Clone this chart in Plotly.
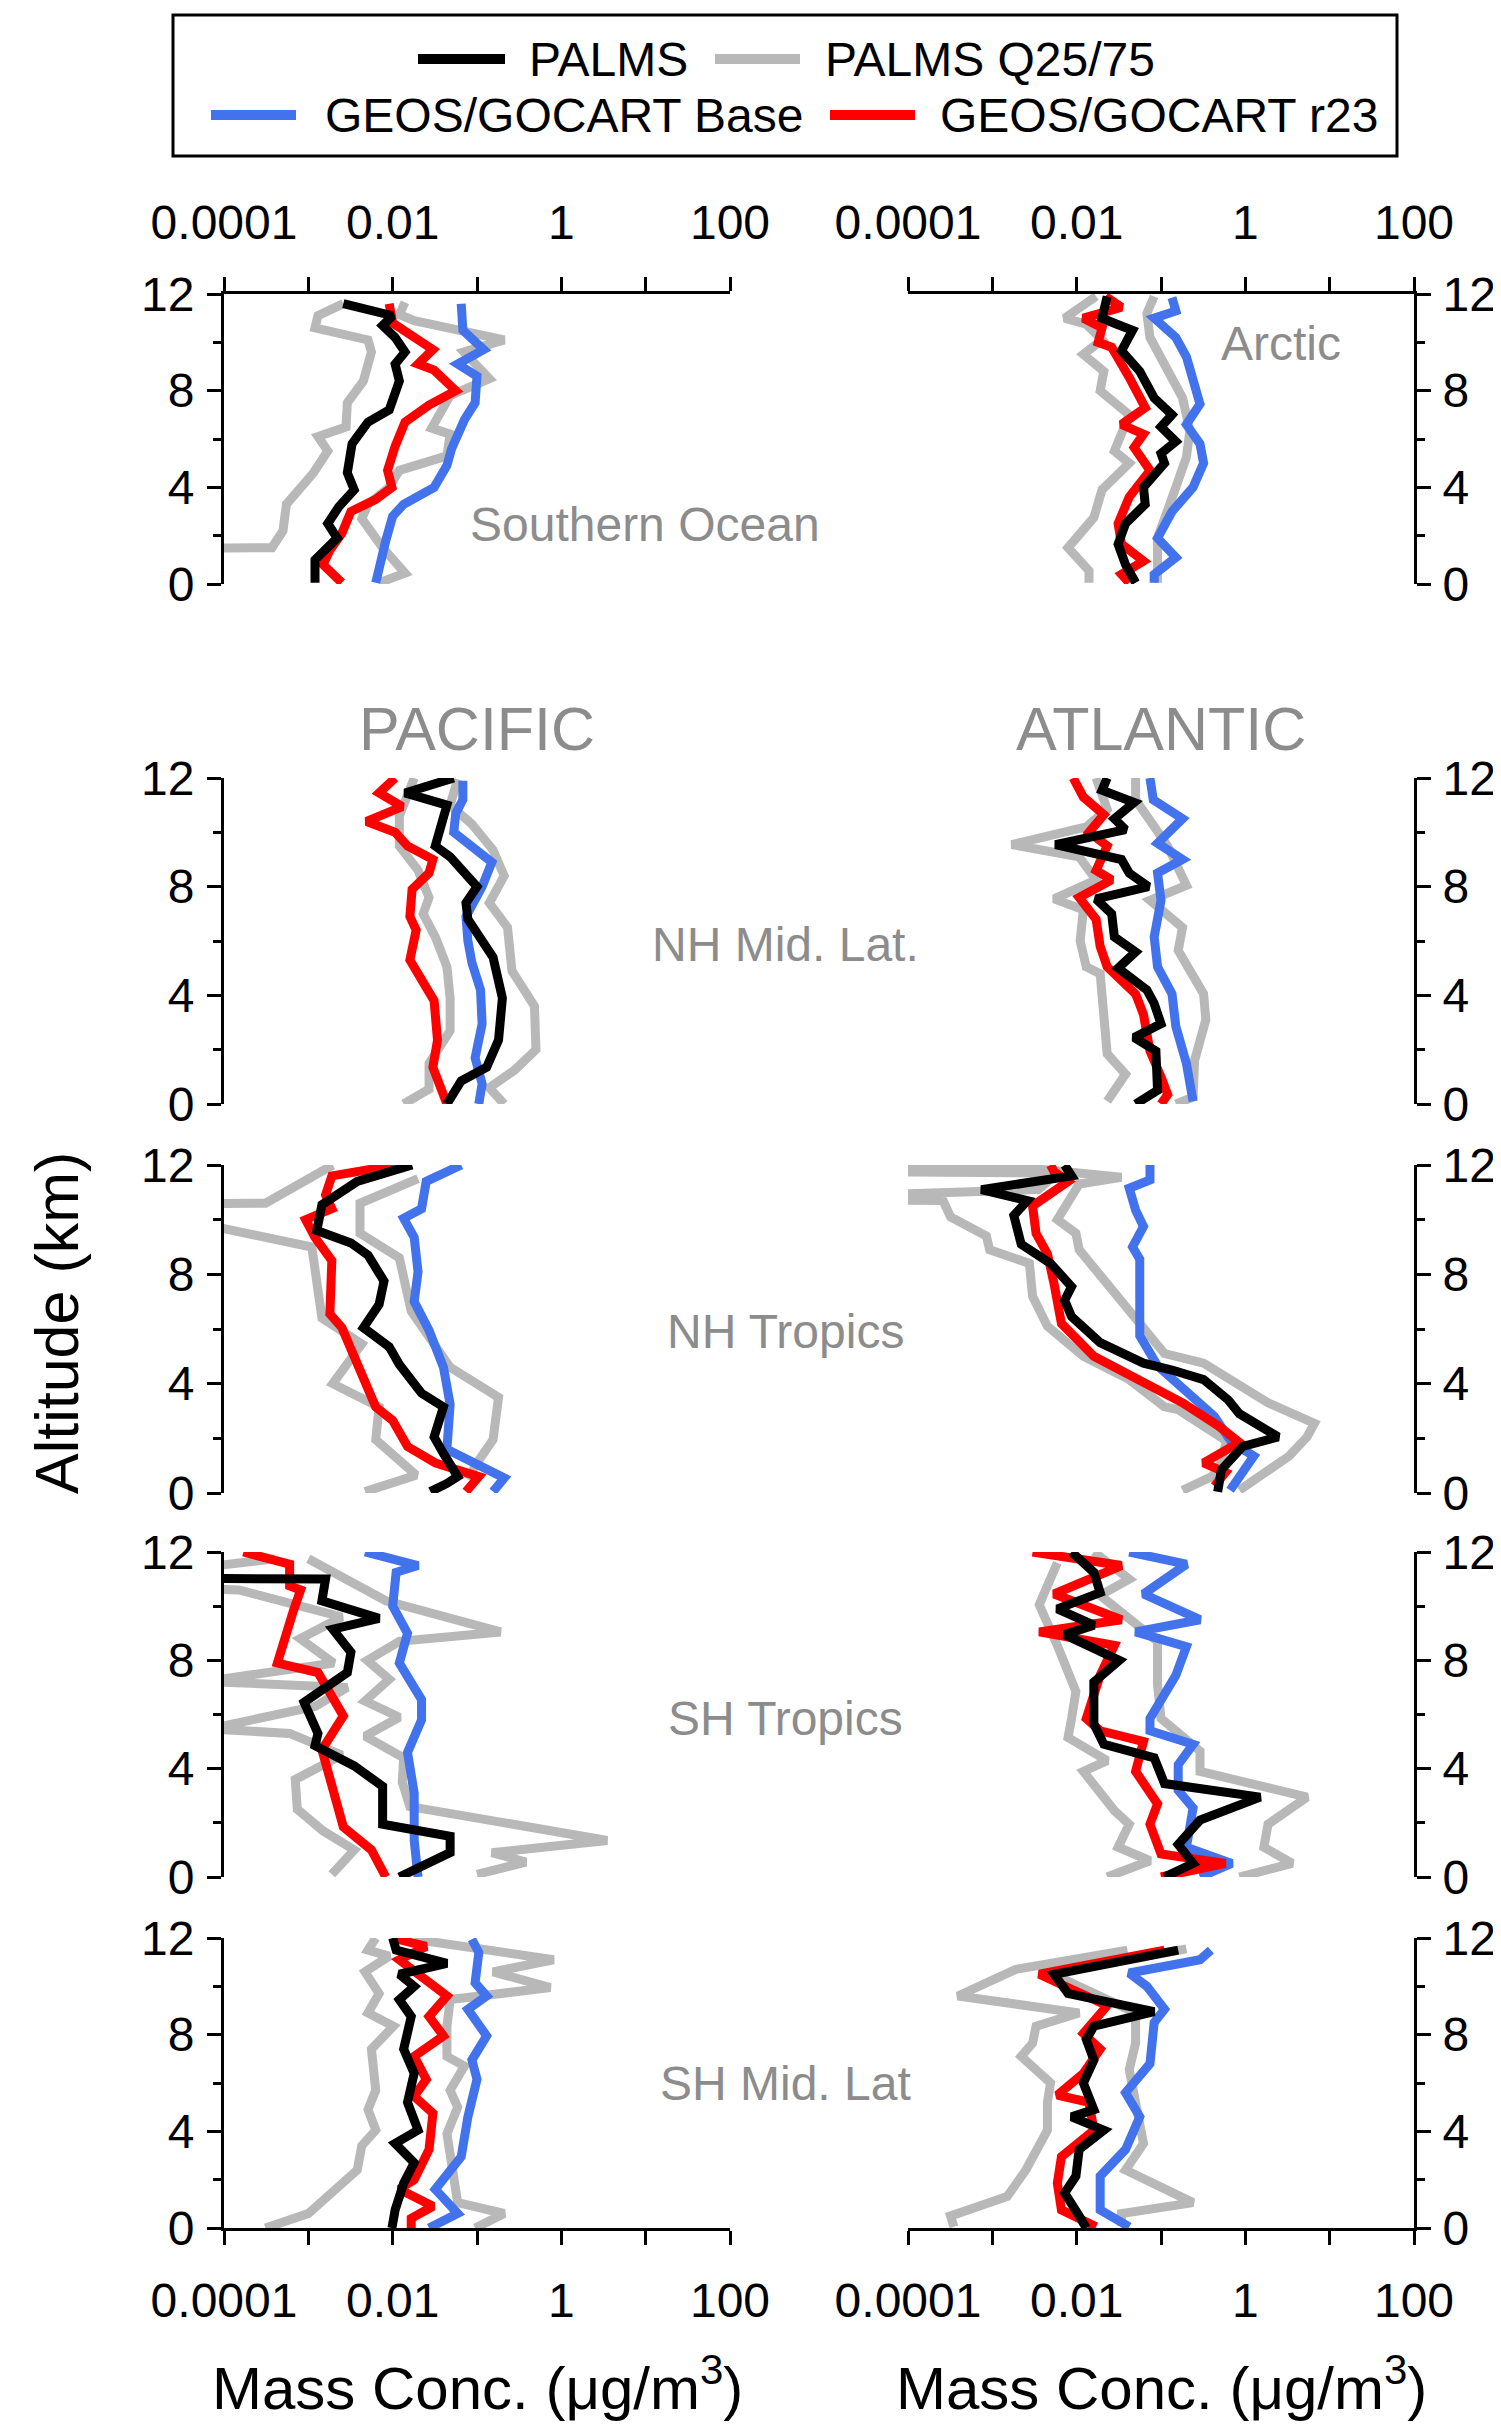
import plotly.graph_objects as go

# The page puts the figure 8 px in from the top-left corner, so the figure is
# sized to end exactly at the 1501x2426 window edge and positions are given in
# window pixels, then converted.
OFF = 8
FW, FH = 1501 - OFF, 2426 - OFF

# ---------------- data (altitude km, mass concentration ug/m3) ----------------
# Southern Ocean (Pacific column, top row)
so_palms_z = [11.6, 11.1, 10.7, 10.2, 9.6, 9.1, 8.4, 7.2, 6.7, 5.8, 4.6, 3.9, 3.2, 2.5, 1.9, 1.0, 0.05]
so_palms = [2.6e-3, 1.0e-2, 7.6e-3, 1.07e-2, 1.4e-2, 1.07e-2, 1.2e-2, 9.1e-3, 5.1e-3, 3.3e-3, 2.9e-3, 3.5e-3, 2.3e-3, 1.7e-3, 2.2e-3, 1.2e-3, 1.2e-3]
so_r23_z = [11.6, 10.8, 9.7, 9.1, 8.85, 8.0, 7.4, 6.7, 5.7, 4.7, 4.0, 3.5, 3.0, 2.1, 1.4, 0.8, 0.05]
so_r23 = [9.1e-3, 1.0e-2, 3.0e-2, 2.0e-2, 3.1e-2, 5.6e-2, 2.7e-2, 1.4e-2, 1.07e-2, 8.7e-3, 9.8e-3, 6.3e-3, 3.2e-3, 2.5e-3, 1.8e-3, 1.5e-3, 2.5e-3]
so_base_z = [11.6, 10.5, 9.7, 9.1, 8.6, 7.5, 6.8, 5.6, 4.9, 4.0, 3.3, 2.8, 1.8, 1.0, 0.05]
so_base = [6.5e-2, 6.8e-2, 0.12, 5.9e-2, 0.10, 9.5e-2, 7.1e-2, 5.0e-2, 4.4e-2, 3.1e-2, 1.35e-2, 1.0e-2, 8.3e-3, 7.2e-3, 6.3e-3]
so_q75_z = [11.65, 11.15, 10.9, 10.1, 9.6, 8.5, 7.8, 6.45, 6.2, 5.3, 4.7, 4.0, 3.3, 2.7, 1.5, 0.45, 0.05]
so_q75 = [1.4e-2, 1.2e-2, 1.8e-2, 0.21, 7.0e-2, 0.14, 4.8e-2, 2.9e-2, 4.8e-2, 4.4e-2, 1.2e-2, 9.1e-3, 5.1e-3, 4.3e-3, 7.6e-3, 1.4e-2, 6.9e-3]
so_q25_z = [11.6, 11.1, 10.6, 10.1, 9.6, 8.4, 7.5, 6.5, 6.1, 5.5, 4.6, 3.8, 3.3, 2.2, 1.5, 1.45, 0.05]
so_q25 = [2.6e-3, 1.3e-3, 1.2e-3, 5.1e-3, 5.6e-3, 4.5e-3, 2.9e-3, 2.8e-3, 1.3e-3, 1.7e-3, 1.15e-3, 7.4e-4, 5.5e-4, 5.0e-4, 3.7e-4, 1e-6, 1e-6]

# Arctic (Atlantic column, top row)
ar_palms_z = [11.9, 11.0, 10.75, 10.5, 9.65, 8.8, 7.7, 7.0, 6.5, 5.9, 5.4, 5.0, 4.0, 3.3, 2.5, 1.65, 0.8, 0.05]
ar_palms = [2.3e-2, 2.0e-2, 3.0e-2, 4.6e-2, 3.4e-2, 5.6e-2, 8.3e-2, 0.135, 0.10, 0.15, 0.10, 0.11, 6.2e-2, 6.5e-2, 3.8e-2, 3.1e-2, 3.8e-2, 5.0e-2]
ar_r23_z = [11.9, 11.45, 11.0, 10.6, 10.0, 9.8, 8.55, 7.3, 6.6, 6.2, 5.65, 4.7, 3.6, 2.5, 1.65, 0.95, 0.4, 0.05]
ar_r23 = [2.2e-2, 3.4e-2, 1.2e-2, 2.0e-2, 1.8e-2, 2.6e-2, 4.2e-2, 6.5e-2, 3.4e-2, 6.2e-2, 4.8e-2, 7.4e-2, 4.2e-2, 3.1e-2, 3.4e-2, 6.2e-2, 3.4e-2, 4.2e-2]
ar_base_z = [11.85, 11.3, 11.0, 10.6, 10.2, 9.4, 8.3, 7.45, 6.6, 5.8, 5.0, 4.0, 3.0, 1.9, 1.1, 0.4, 0.05]
ar_base = [0.135, 0.15, 8.3e-2, 0.11, 0.15, 0.20, 0.24, 0.29, 0.20, 0.29, 0.32, 0.24, 0.135, 9.1e-2, 0.15, 8.3e-2, 8.3e-2]
ar_q75_z = [11.9, 11.2, 10.2, 8.8, 7.7, 6.35, 5.25, 4.0, 3.0, 1.9, 0.05]
ar_q75 = [8.3e-2, 6.8e-2, 7.4e-2, 0.12, 0.18, 0.22, 0.20, 0.15, 0.12, 9.1e-2, 9.1e-2]
ar_q25_z = [11.9, 11.0, 10.75, 10.1, 9.5, 8.8, 8.0, 7.0, 5.5, 5.0, 3.9, 2.75, 1.5, 0.55, 0.05]
ar_q25 = [1.7e-2, 7.2e-3, 1.3e-2, 2.0e-2, 1.2e-2, 2.1e-2, 1.9e-2, 4.2e-2, 2.8e-2, 4.2e-2, 2.0e-2, 1.6e-2, 7.9e-3, 1.4e-2, 1.4e-2]

# Pacific NH Mid. Lat.
pnm_palms_z = [12.0, 11.45, 11.0, 9.5, 9.1, 8.0, 7.4, 6.8, 5.4, 3.9, 2.35, 1.35, 0.85, 0.0]
pnm_palms = [5.3e-2, 1.4e-2, 4.4e-2, 3.2e-2, 4.8e-2, 0.10, 7.4e-2, 7.8e-2, 0.155, 0.20, 0.18, 0.13, 6.5e-2, 4.4e-2]
pnm_r23_z = [12.0, 11.45, 10.95, 10.4, 10.0, 9.5, 9.0, 8.5, 7.9, 6.9, 6.4, 5.3, 3.8, 2.35, 1.35, 0.0]
pnm_r23 = [1.07e-2, 6.9e-3, 1.3e-2, 4.9e-3, 1.07e-2, 1.5e-2, 3.0e-2, 2.7e-2, 1.7e-2, 1.6e-2, 1.9e-2, 1.6e-2, 3.1e-2, 3.4e-2, 3.0e-2, 4.4e-2]
pnm_base_z = [11.9, 11.2, 10.7, 10.0, 8.9, 8.0, 6.9, 6.0, 5.2, 4.2, 2.95, 1.7, 0.75, 0.0]
pnm_base = [6.8e-2, 6.8e-2, 5.6e-2, 5.3e-2, 0.15, 0.115, 7.4e-2, 7.8e-2, 8.7e-2, 0.11, 0.115, 9.5e-2, 0.115, 0.105]
pnm_q75_z = [11.95, 11.0, 10.3, 9.35, 8.4, 7.4, 6.5, 4.9, 3.6, 2.0, 1.25, 0.6, 0.0]
pnm_q75 = [5.9e-2, 4.8e-2, 8.7e-2, 0.155, 0.21, 0.14, 0.23, 0.26, 0.48, 0.50, 0.28, 0.14, 0.21]
pnm_q25_z = [12.0, 10.6, 9.5, 8.6, 7.6, 7.0, 6.15, 5.05, 3.9, 2.7, 1.5, 0.55, 0.0]
pnm_q25 = [1.8e-2, 1.2e-2, 1.2e-2, 2.0e-2, 2.7e-2, 2.3e-2, 3.2e-2, 4.4e-2, 4.8e-2, 4.8e-2, 2.7e-2, 2.7e-2, 1.35e-2]

# Atlantic NH Mid. Lat.
anm_palms_z = [12.0, 11.55, 11.1, 10.5, 10.1, 9.55, 9.0, 8.5, 8.0, 7.55, 7.0, 6.15, 5.6, 5.0, 4.2, 3.7, 2.95, 2.45, 1.95, 0.5, 0.0]
anm_palms = [2.3e-2, 2.0e-2, 4.8e-2, 2.8e-2, 3.8e-2, 5.6e-3, 3.4e-2, 4.2e-2, 7.1e-2, 1.7e-2, 2.6e-2, 2.8e-2, 5.0e-2, 3.1e-2, 6.8e-2, 8.3e-2, 0.10, 4.8e-2, 8.7e-2, 9.1e-2, 5.0e-2]
anm_r23_z = [12.0, 11.3, 10.65, 10.0, 9.5, 8.6, 8.25, 7.6, 6.8, 5.8, 5.05, 4.05, 3.3, 1.95, 1.0, 0.35, 0.0]
anm_r23 = [9.1e-3, 1.2e-2, 2.1e-2, 1.4e-2, 2.3e-2, 1.7e-2, 2.6e-2, 1.07e-2, 1.7e-2, 1.9e-2, 2.3e-2, 5.0e-2, 6.2e-2, 7.4e-2, 0.10, 0.12, 0.10]
anm_base_z = [12.0, 11.2, 10.5, 9.6, 9.0, 8.5, 7.5, 6.15, 5.05, 4.05, 2.85, 1.5, 0.1]
anm_base = [7.4e-2, 8.1e-2, 0.18, 9.1e-2, 0.18, 9.1e-2, 0.10, 8.3e-2, 9.1e-2, 0.135, 0.15, 0.20, 0.24]
anm_q75_z = [12.0, 11.2, 9.5, 8.05, 7.5, 6.5, 5.65, 4.05, 3.1, 1.6, 0.25, 0.0]
anm_q75 = [5.0e-2, 5.0e-2, 0.12, 0.20, 7.4e-2, 0.18, 0.16, 0.32, 0.34, 0.25, 0.24, 0.15]
anm_q25_z = [12.0, 10.85, 10.2, 9.55, 9.1, 8.25, 7.55, 7.15, 6.0, 5.05, 4.8, 3.3, 1.85, 1.1, 0.1]
anm_q25 = [1.7e-2, 2.3e-2, 1.3e-2, 1.7e-3, 1.07e-2, 1.7e-2, 5.4e-3, 1.2e-2, 1.1e-2, 1.3e-2, 1.9e-2, 2.1e-2, 2.3e-2, 3.8e-2, 2.3e-2]

# Pacific NH Tropics
pnt_palms_z = [12.0, 11.4, 10.55, 9.6, 9.15, 8.7, 7.75, 6.9, 6.05, 5.35, 4.7, 3.65, 3.15, 2.05, 1.45, 0.6, 0.35, 0.05]
pnt_palms = [1.7e-2, 3.8e-3, 1.45e-3, 1.26e-3, 3.2e-3, 5.1e-3, 7.9e-3, 6.9e-3, 4.5e-3, 9.1e-3, 1.2e-2, 2.2e-2, 4.0e-2, 3.1e-2, 4.0e-2, 5.9e-2, 4.4e-2, 2.8e-2]
pnt_r23_z = [12.0, 11.6, 10.9, 10.4, 10.0, 9.35, 8.5, 7.4, 6.55, 6.05, 4.7, 3.15, 2.65, 1.7, 1.1, 0.6, 0.05]
pnt_r23 = [1.1e-2, 1.9e-3, 1.6e-3, 1.9e-3, 9.3e-4, 1.2e-3, 1.9e-3, 1.8e-3, 1.8e-3, 2.5e-3, 3.8e-3, 6.3e-3, 1.0e-2, 1.5e-2, 3.2e-2, 0.105, 7.4e-2]
pnt_base_z = [12.0, 11.4, 10.4, 10.05, 9.35, 8.1, 7.0, 5.95, 4.6, 3.25, 1.6, 0.55, 0.05]
pnt_base = [6.5e-2, 2.5e-2, 2.2e-2, 1.35e-2, 1.8e-2, 2.0e-2, 1.8e-2, 2.7e-2, 4.0e-2, 4.8e-2, 4.4e-2, 0.21, 0.155]
pnt_q75_z = [11.5, 10.6, 9.5, 8.6, 6.65, 4.6, 3.5, 1.95, 1.1, 0.5]
pnt_q75 = [2.0e-2, 4.1e-3, 4.1e-3, 1.2e-2, 1.66e-2, 4.8e-2, 0.18, 0.155, 0.10, 7.8e-2]
pnt_q25_z = [12.0, 10.6, 10.55, 9.7, 9.0, 6.4, 5.45, 4.0, 3.15, 1.95, 0.65, 0.05]
pnt_q25 = [1.95e-3, 3.1e-4, 1e-6, 9e-5, 1.1e-3, 1.45e-3, 4.3e-3, 1.95e-3, 6.9e-3, 6.3e-3, 1.9e-2, 4.7e-3]

# Atlantic NH Tropics
ant_palms_z = [12.0, 11.6, 11.1, 10.7, 10.15, 9.1, 8.4, 7.55, 7.05, 6.45, 5.5, 4.75, 4.5, 4.15, 3.4, 2.9, 2.05, 1.7, 0.85, 0.05]
ant_palms = [7.2e-3, 8.7e-3, 7.4e-4, 2.6e-3, 1.8e-3, 2.2e-3, 4.9e-3, 8.7e-3, 7.2e-3, 8.7e-3, 1.9e-2, 6.2e-2, 0.135, 0.32, 0.63, 0.85, 2.45, 0.93, 0.52, 0.47]
ant_r23_z = [12.0, 11.75, 11.4, 10.5, 9.5, 8.75, 7.65, 6.2, 5.0, 3.9, 3.3, 2.45, 1.85, 1.1, 0.75, 0.25]
ant_r23 = [4.9e-3, 5.4e-3, 7.9e-3, 3.0e-3, 3.3e-3, 4.5e-3, 5.4e-3, 6.6e-3, 1.6e-2, 7.4e-2, 0.18, 0.48, 0.85, 0.32, 0.58, 0.43]
ant_base_z = [12.0, 11.45, 11.15, 10.35, 9.75, 9.0, 8.55, 5.75, 4.65, 3.65, 2.8, 1.85, 1.35, 0.1]
ant_base = [7.4e-2, 7.4e-2, 4.2e-2, 5.0e-2, 6.2e-2, 4.6e-2, 5.6e-2, 5.6e-2, 9.1e-2, 0.22, 0.43, 0.69, 1.26, 0.66]
ant_q75_z = [12.0, 11.95, 11.55, 11.3, 10.0, 9.5, 8.9, 7.65, 6.45, 5.1, 4.75, 3.3, 2.55, 2.05, 1.35, 0.1]
ant_q75 = [1e-6, 1.7e-3, 3.4e-2, 1.07e-2, 5.9e-3, 9.8e-3, 1.07e-2, 2.3e-2, 5.0e-2, 0.11, 0.32, 1.86, 6.6, 5.4, 3.3, 0.85]
ant_q25_z = [11.8, 11.7, 11.1, 10.75, 10.7, 10.1, 9.4, 8.9, 8.4, 7.2, 6.1, 5.0, 4.15, 3.15, 3.05, 1.9, 1.0, 0.6, 0.1]
ant_q25 = [1e-6, 5.9e-3, 3.5e-3, 1e-6, 2.6e-4, 3.2e-4, 8.5e-4, 9.3e-4, 2.75e-3, 3.0e-3, 4.5e-3, 1.2e-2, 4.2e-2, 0.11, 0.16, 0.6, 0.5, 0.4, 0.18]

# Pacific SH Tropics
pst_palms_z = [11.75, 11.05, 11.0, 10.2, 9.55, 9.15, 8.3, 7.55, 6.45, 5.3, 4.85, 4.1, 3.35, 1.95, 1.5, 0.9, 0.0]
pst_palms = [1e-6, 1e-6, 1.6e-3, 1.45e-3, 6.9e-3, 1.95e-3, 3.2e-3, 2.9e-3, 8.9e-4, 1.3e-3, 1.2e-3, 3.5e-3, 7.6e-3, 7.6e-3, 4.8e-2, 4.8e-2, 1.2e-2]
pst_r23_z = [12.0, 11.55, 10.75, 10.6, 9.8, 7.9, 7.55, 5.95, 4.7, 3.7, 1.85, 1.0, 0.0]
pst_r23 = [1.7e-4, 6.0e-4, 6.0e-4, 8.1e-4, 6.6e-4, 4.3e-4, 1.3e-3, 2.6e-3, 1.45e-3, 1.8e-3, 2.6e-3, 5.6e-3, 8.3e-3]
pst_base_z = [12.0, 11.5, 11.25, 10.0, 9.0, 7.9, 6.55, 5.8, 4.6, 3.1, 1.35, 0.0]
pst_base = [4.7e-3, 2.0e-2, 1.1e-2, 1.0e-2, 1.5e-2, 1.2e-2, 2.2e-2, 2.2e-2, 1.5e-2, 1.8e-2, 1.8e-2, 2.0e-2]
pst_q75_z = [11.75, 10.2, 9.05, 8.7, 8.0, 7.3, 6.5, 5.9, 5.2, 4.4, 3.5, 2.6, 1.35, 0.9, 0.55, 0.1]
pst_q75 = [1.0e-3, 8.3e-3, 0.19, 1.2e-2, 5.0e-3, 9.1e-3, 4.7e-3, 1.2e-2, 4.7e-3, 1.35e-2, 1.3e-2, 1.6e-2, 3.5, 0.15, 0.38, 0.10]
pst_q25_z = [11.75, 10.8, 10.6, 9.6, 8.8, 7.9, 7.3, 7.2, 7.0, 6.3, 5.55, 5.45, 5.3, 4.5, 3.6, 2.5, 1.7, 1.0, 0.1]
pst_q25 = [4.0e-4, 1e-6, 1.5e-4, 2.5e-3, 8.0e-4, 2.0e-3, 9e-5, 9e-5, 2.9e-3, 1.2e-3, 9e-5, 9e-5, 6.0e-4, 2.5e-3, 7.0e-4, 7.4e-4, 1.5e-3, 3.5e-3, 1.9e-3]

# Atlantic SH Tropics
ast_palms_z = [12.0, 11.25, 10.5, 9.9, 9.3, 8.95, 8.0, 7.2, 5.65, 4.9, 4.4, 3.45, 2.95, 2.1, 1.2, 0.5, 0.0]
ast_palms = [8.7e-3, 1.6e-2, 1.9e-2, 5.9e-3, 1.6e-2, 7.2e-3, 3.2e-2, 1.6e-2, 1.6e-2, 2.1e-2, 8.3e-2, 0.11, 1.5, 0.29, 0.16, 0.24, 0.11]
ast_r23_z = [12.0, 11.5, 10.45, 9.5, 9.05, 8.55, 7.45, 5.85, 5.4, 5.0, 3.9, 2.7, 1.95, 0.85, 0.5, 0.0]
ast_r23 = [3.0e-3, 3.4e-2, 5.4e-3, 3.4e-2, 3.6e-3, 2.8e-2, 1.9e-2, 1.3e-2, 1.9e-2, 6.2e-2, 5.0e-2, 9.1e-2, 7.4e-2, 0.10, 0.58, 0.10]
ast_base_z = [12.0, 11.55, 10.45, 9.5, 9.05, 8.5, 7.45, 5.85, 5.4, 4.9, 4.15, 3.2, 2.55, 1.1, 0.5, 0.0]
ast_base = [4.2e-2, 0.20, 6.2e-2, 0.29, 5.0e-2, 0.20, 0.15, 7.4e-2, 7.4e-2, 0.24, 0.16, 0.16, 0.24, 0.20, 0.69, 0.29]
ast_q75_z = [12.0, 11.0, 10.4, 8.7, 7.1, 5.85, 4.65, 3.9, 2.95, 1.95, 1.1, 0.5, 0.0]
ast_q75 = [1.6e-2, 4.2e-2, 1.9e-2, 9.1e-2, 9.1e-2, 0.10, 0.29, 0.29, 5.4, 1.86, 1.66, 3.6, 0.85]
ast_q25_z = [11.6, 10.05, 8.55, 6.85, 5.85, 5.15, 4.3, 3.9, 2.45, 1.95, 1.1, 0.6, 0.0]
ast_q25 = [5.9e-3, 3.6e-3, 5.9e-3, 9.8e-3, 8.7e-3, 7.9e-3, 2.3e-2, 1.2e-2, 2.8e-2, 4.2e-2, 3.1e-2, 7.4e-2, 2.3e-2]

# Pacific SH Mid. Lat
psm_palms_z = [12.0, 11.5, 10.95, 10.5, 10.0, 9.45, 8.75, 7.4, 6.4, 5.2, 4.05, 3.5, 2.7, 1.85, 0.75, 0.0]
psm_palms = [1.0e-2, 1.1e-2, 4.4e-2, 1.2e-2, 1.8e-2, 1.2e-2, 1.66e-2, 1.35e-2, 1.8e-2, 1.5e-2, 2.0e-2, 1.07e-2, 1.8e-2, 1.35e-2, 1.07e-2, 9.8e-3]
psm_r23_z = [12.0, 11.65, 11.1, 10.15, 9.6, 8.75, 7.95, 7.1, 6.15, 5.45, 4.75, 3.25, 2.0, 1.6, 0.9, 0.4, 0.0]
psm_r23 = [1.0e-2, 2.5e-2, 1.2e-2, 2.7e-2, 4.4e-2, 2.7e-2, 4.0e-2, 1.8e-2, 2.5e-2, 1.8e-2, 3.0e-2, 2.7e-2, 1.8e-2, 1.2e-2, 3.0e-2, 1.66e-2, 1.66e-2]
psm_base_z = [11.95, 11.4, 10.15, 9.6, 9.05, 7.95, 6.95, 6.15, 4.6, 2.95, 1.6, 0.6, 0.0]
psm_base = [8.7e-2, 0.105, 9.5e-2, 0.13, 7.8e-2, 0.13, 8.7e-2, 0.10, 7.8e-2, 6.5e-2, 3.2e-2, 5.9e-2, 2.7e-2]
psm_q75_z = [11.95, 11.1, 10.6, 9.95, 9.45, 8.35, 7.1, 6.7, 5.7, 5.0, 3.9, 2.95, 1.05, 0.6, 0.0]
psm_q75 = [1.8e-2, 0.81, 0.155, 0.74, 4.8e-2, 4.4e-2, 4.4e-2, 7.1e-2, 4.8e-2, 5.9e-2, 4.4e-2, 4.8e-2, 5.9e-2, 0.21, 9.5e-2]
psm_q25_z = [12.0, 11.5, 11.25, 10.6, 9.7, 8.9, 8.35, 7.4, 5.7, 4.9, 4.05, 3.4, 2.4, 1.3, 0.6, 0.0]
psm_q25 = [6.3e-3, 5.1e-3, 9.1e-3, 4.7e-3, 6.9e-3, 5.1e-3, 1.02e-2, 5.6e-3, 6.3e-3, 5.1e-3, 6.3e-3, 4.3e-3, 3.8e-3, 1.6e-3, 1.0e-3, 3.1e-4]

# Atlantic SH Mid. Lat
asm_palms_z = [11.5, 10.5, 9.7, 8.95, 8.35, 7.8, 6.95, 6.0, 4.9, 4.6, 4.05, 3.25, 2.15, 1.45, 0.5, 0.0]
asm_palms = [0.16, 5.4e-3, 7.9e-3, 8.3e-2, 1.6e-2, 1.3e-2, 1.6e-2, 1.2e-2, 1.6e-2, 8.7e-3, 2.1e-2, 1.07e-2, 9.8e-3, 7.2e-3, 1.07e-2, 1.3e-2]
asm_r23_z = [11.5, 10.5, 9.2, 8.05, 7.4, 6.4, 5.5, 5.2, 4.05, 2.95, 1.85, 0.75, 0.05]
asm_r23 = [0.11, 3.6e-3, 2.3e-2, 1.2e-2, 1.9e-2, 1.2e-2, 5.9e-3, 1.4e-2, 1.6e-2, 6.6e-3, 5.9e-3, 6.6e-3, 1.7e-2]
asm_base_z = [11.5, 11.1, 10.55, 10.0, 9.05, 8.5, 6.8, 5.6, 4.6, 3.25, 2.15, 0.75, 0.05]
asm_base = [0.39, 0.29, 4.2e-2, 6.8e-2, 0.11, 8.3e-2, 7.4e-2, 3.8e-2, 5.6e-2, 3.8e-2, 1.9e-2, 1.9e-2, 4.2e-2]
asm_q75_z = [11.55, 10.55, 8.9, 7.65, 6.55, 3.5, 2.4, 1.05, 0.6, 0.1]
asm_q75 = [0.20, 4.9e-3, 5.0e-2, 5.0e-2, 4.2e-2, 6.2e-2, 3.8e-2, 0.24, 3.4e-2, 3.4e-2]
asm_q25_z = [11.5, 10.7, 9.6, 8.9, 8.35, 7.65, 7.1, 6.0, 5.2, 4.05, 2.4, 1.3, 0.5, 0.05]
asm_q25 = [4.0e-2, 1.9e-3, 3.9e-4, 1.07e-2, 3.3e-3, 3.0e-3, 2.2e-3, 4.9e-3, 4.5e-3, 4.5e-3, 2.5e-3, 1.5e-3, 3.2e-4, 3.5e-4]

region_labels = ["Southern Ocean", "Arctic", "NH Mid. Lat.", "NH Tropics", "SH Tropics", "SH Mid. Lat"]
column_labels = ["PACIFIC", "ATLANTIC"]
x_tickvals = [1e-4, 1e-2, 1, 100]
x_ticktext = ["0.0001", "0.01", "1", "100"]
x_minor_vals = [1e-3, 1e-1, 10]
y_tickvals = [0, 4, 8, 12]
y_minor_vals = [2, 6, 10]
series_names = ["PALMS", "PALMS Q25/75", "GEOS/GOCART Base", "GEOS/GOCART r23"]

PANELS = [
    dict(q25=(so_q25_z, so_q25), q75=(so_q75_z, so_q75), base=(so_base_z, so_base), r23=(so_r23_z, so_r23), palms=(so_palms_z, so_palms)),
    dict(q25=(ar_q25_z, ar_q25), q75=(ar_q75_z, ar_q75), base=(ar_base_z, ar_base), r23=(ar_r23_z, ar_r23), palms=(ar_palms_z, ar_palms)),
    dict(q25=(pnm_q25_z, pnm_q25), q75=(pnm_q75_z, pnm_q75), base=(pnm_base_z, pnm_base), r23=(pnm_r23_z, pnm_r23), palms=(pnm_palms_z, pnm_palms)),
    dict(q25=(anm_q25_z, anm_q25), q75=(anm_q75_z, anm_q75), base=(anm_base_z, anm_base), r23=(anm_r23_z, anm_r23), palms=(anm_palms_z, anm_palms)),
    dict(q25=(pnt_q25_z, pnt_q25), q75=(pnt_q75_z, pnt_q75), base=(pnt_base_z, pnt_base), r23=(pnt_r23_z, pnt_r23), palms=(pnt_palms_z, pnt_palms)),
    dict(q25=(ant_q25_z, ant_q25), q75=(ant_q75_z, ant_q75), base=(ant_base_z, ant_base), r23=(ant_r23_z, ant_r23), palms=(ant_palms_z, ant_palms)),
    dict(q25=(pst_q25_z, pst_q25), q75=(pst_q75_z, pst_q75), base=(pst_base_z, pst_base), r23=(pst_r23_z, pst_r23), palms=(pst_palms_z, pst_palms)),
    dict(q25=(ast_q25_z, ast_q25), q75=(ast_q75_z, ast_q75), base=(ast_base_z, ast_base), r23=(ast_r23_z, ast_r23), palms=(ast_palms_z, ast_palms)),
    dict(q25=(psm_q25_z, psm_q25), q75=(psm_q75_z, psm_q75), base=(psm_base_z, psm_base), r23=(psm_r23_z, psm_r23), palms=(psm_palms_z, psm_palms)),
    dict(q25=(asm_q25_z, asm_q25), q75=(asm_q75_z, asm_q75), base=(asm_base_z, asm_base), r23=(asm_r23_z, asm_r23), palms=(asm_palms_z, asm_palms)),
]

# ---------------- styling / layout ----------------
GRAY = "#b8b8b8"
BLUE = "#4272ec"
RED = "#ff0000"
BLACK = "#000000"
LABEL_GRAY = "#8c8c8c"
FONT = "Liberation Sans, Arial, sans-serif"
LW = 9
TICK_FS = 48


def px_x(px):
    return (px - OFF) / FW


def px_y(py):
    return 1 - (py - OFF) / FH


ROW_PX = [(294, 584), (778, 1104), (1165, 1493), (1552, 1877), (1938, 2228)]
COL_PX = [(224, 730), (908, 1414)]

STYLE = [("q25", GRAY), ("q75", GRAY), ("base", BLUE), ("r23", RED), ("palms", BLACK)]

fig = go.Figure()
layout = dict(
    template="none",
    width=FW, height=FH, margin=dict(l=0, r=0, t=0, b=0, pad=0, autoexpand=False),
    paper_bgcolor="white", plot_bgcolor="rgba(0,0,0,0)",
    showlegend=False, font=dict(family=FONT, color="black", size=TICK_FS),
)

for i, panel in enumerate(PANELS):
    n = i + 1
    row, col = divmod(i, 2)
    xs = "x" if n == 1 else f"x{n}"
    ys = "y" if n == 1 else f"y{n}"
    for key, color in STYLE:
        z, c = panel[key]
        fig.add_trace(go.Scatter(x=c, y=z, mode="lines", xaxis=xs, yaxis=ys,
                                 line=dict(color=color, width=LW), hoverinfo="skip",
                                 showlegend=False))
    x0, x1 = COL_PX[col]
    t, b = ROW_PX[row]
    xa = dict(type="log", range=[-4, 2], domain=[px_x(x0), px_x(x1)], anchor=ys,
              showgrid=False, zeroline=False, automargin=False)
    if row == 0 or row == 4:
        xa.update(side="top" if row == 0 else "bottom", showline=True, linewidth=3,
                  linecolor="black", ticks="outside", ticklen=14, tickwidth=3,
                  tickcolor="black", tickmode="array", tickvals=x_tickvals,
                  ticktext=x_ticktext, tickfont=dict(size=TICK_FS, family=FONT),
                  ticklabelstandoff=19 if row == 0 else 14,
                  minor=dict(tickmode="array", tickvals=x_minor_vals, ticks="outside",
                             ticklen=14, tickwidth=3, tickcolor="black", showgrid=False))
    else:
        xa.update(showline=False, showticklabels=False, ticks="")
    ya = dict(range=[0, 12], domain=[px_y(b), px_y(t)], anchor=xs,
              side="left" if col == 0 else "right", showgrid=False, zeroline=False,
              automargin=False,
              showline=True, linewidth=3, linecolor="black", ticks="outside",
              ticklen=14, tickwidth=3, tickcolor="black", tickmode="array",
              tickvals=y_tickvals, tickfont=dict(size=TICK_FS, family=FONT),
              ticklabelstandoff=3 if col == 0 else 2,
              minor=dict(tickmode="array", tickvals=y_minor_vals, ticks="outside",
                         ticklen=8, tickwidth=3, tickcolor="black", showgrid=False))
    layout["xaxis" if n == 1 else f"xaxis{n}"] = xa
    layout["yaxis" if n == 1 else f"yaxis{n}"] = ya

annotations = []
REGION_POS = [(645, 525), (1281, 344), (785, 944), (785, 1331), (785, 1718), (785, 2083)]
for txt, (px, py) in zip(region_labels, REGION_POS):
    annotations.append(dict(text=txt, x=px_x(px), y=px_y(py), xref="paper", yref="paper",
                            showarrow=False, xanchor="center", yanchor="middle",
                            font=dict(size=48, color=LABEL_GRAY, family=FONT)))
for txt, px in zip(column_labels, [477, 1161]):
    annotations.append(dict(text=txt, x=px_x(px), y=px_y(729), xref="paper", yref="paper",
                            showarrow=False, xanchor="center", yanchor="middle",
                            font=dict(size=61, color=LABEL_GRAY, family=FONT)))
annotations.append(dict(text="Altitude (km)", x=px_x(57), y=px_y(1323), xref="paper", yref="paper",
                        showarrow=False, textangle=-90, xanchor="center", yanchor="middle",
                        font=dict(size=61, color="black", family=FONT)))
for px in [477, 1161]:
    annotations.append(dict(text="Mass Conc. (μg/m<sup>3</sup>)", x=px_x(px), y=px_y(2384),
                            xref="paper", yref="paper", showarrow=False,
                            xanchor="center", yanchor="middle",
                            font=dict(size=60, color="black", family=FONT)))

# legend drawn manually: box, line samples, labels
shapes = [dict(type="rect", xref="paper", yref="paper", x0=px_x(173), x1=px_x(1397),
               y0=px_y(156), y1=px_y(15), line=dict(color="black", width=3),
               fillcolor="white")]
LEG = [(series_names[0], BLACK, 418, 505, 527, 59),
       (series_names[1], GRAY, 715, 800, 823, 59),
       (series_names[2], BLUE, 211, 296, 323, 115),
       (series_names[3], RED, 830, 915, 938, 115)]
for name, color, lx0, lx1, tx, ly in LEG:
    shapes.append(dict(type="line", xref="paper", yref="paper", x0=px_x(lx0), x1=px_x(lx1),
                       y0=px_y(ly), y1=px_y(ly), line=dict(color=color, width=10)))
    annotations.append(dict(text=name, x=px_x(tx), y=px_y(ly), xref="paper", yref="paper",
                            showarrow=False, xanchor="left", yanchor="middle",
                            font=dict(size=48, color="black", family=FONT)))

layout["annotations"] = annotations
layout["shapes"] = shapes
fig.update_layout(**layout)
fig.write_html("out.html")
